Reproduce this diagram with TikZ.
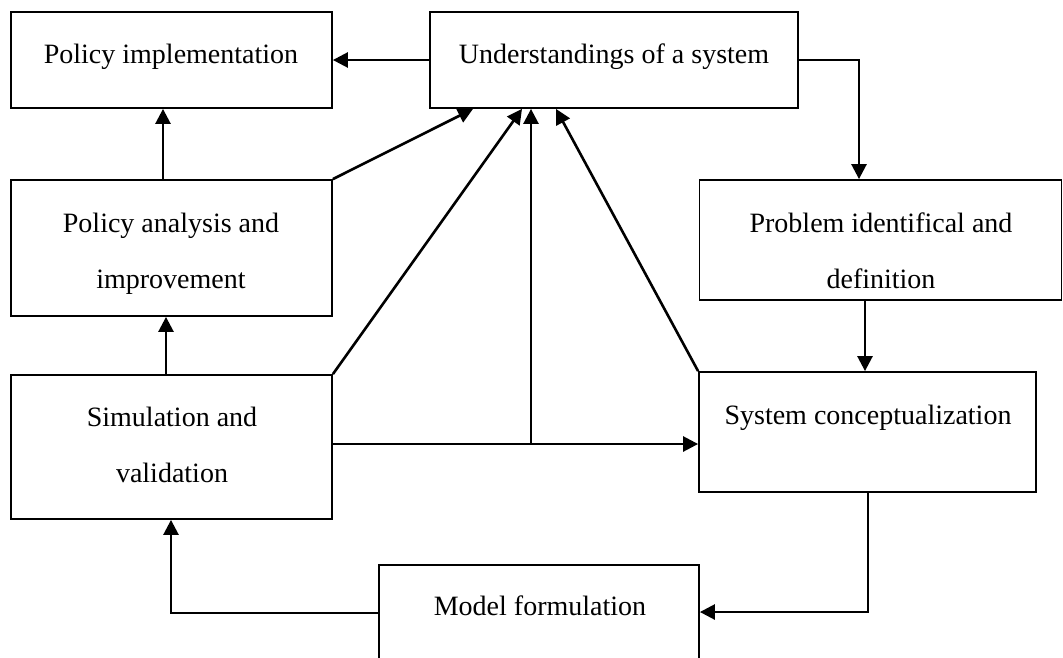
\documentclass[tikz,border=0pt]{standalone}
\usepackage{fontspec}
\setmainfont{Liberation Serif}
\usetikzlibrary{arrows.meta}
\begin{document}
\begin{tikzpicture}[x=1pt,y=-1pt,
  box/.style={draw, line width=1.8pt, inner sep=0pt, rectangle},
  lbl/.style={font=\fontsize{28}{56}\selectfont, inner sep=0pt, anchor=base, align=center},
  conn/.style={line width=2.6pt, -{Triangle[length=15pt,width=15pt]}},
  plainline/.style={line width=2.6pt}]
\useasboundingbox (0,0) rectangle (1063,657);
\clip (0,0) rectangle (1063,657);
% boxes
\node[box, minimum width=321pt, minimum height=96pt] (pi) at (171.5,60) {};
\node[box, minimum width=368pt, minimum height=96pt] (ui) at (614,60) {};
\node[box, minimum width=321pt, minimum height=136pt] (pa) at (171.5,248) {};
\node[box, minimum width=362pt, minimum height=120pt] (pd) at (880.5,240) {};
\node[box, minimum width=321pt, minimum height=144pt] (sv) at (171.5,447) {};
\node[box, minimum width=337pt, minimum height=120pt] (sc) at (867.5,432) {};
\node[box, minimum width=320pt, minimum height=140pt] (mf) at (539,635) {};
% labels (anchor base = last line)
\node[lbl] (tpi) at (171,63) {Policy implementation};
\node[lbl] (tui) at (614,63) {Understandings of a system};
\node[lbl] (tpa) at (171,288) {Policy analysis and\\improvement};
\node[lbl] (tpd) at (881,288) {Problem identifical and\\definition};
\node[lbl] (tsv) at (172,482) {Simulation and\\validation};
\node[lbl] (tsc) at (868,424) {System conceptualization};
\node[lbl] (tmf) at (540,615) {Model formulation};
% connectors
\draw[conn] (ui.west) -- (pi.east);
\draw[conn] (ui.east) -| (859,0 |- pd.north);
\draw[conn] (865,0 |- pd.south) -- (865,0 |- sc.north);
\draw[conn] (163,0 |- pa.north) -- (163,0 |- pi.south);
\draw[conn] (166,0 |- sv.north) -- (166,0 |- pa.south);
\draw[conn] (pa.north east) -- (473,0 |- ui.south);
\draw[conn] (sv.north east) -- (522,0 |- ui.south);
\coordinate (j) at (531,444);
\draw[conn] (sv.east |- j) -- (sc.west |- j);
\draw[conn] (j) -- (531,0 |- ui.south);
\draw[conn] (sc.north west) -- (556,0 |- ui.south);
\draw[conn] (868,0 |- sc.south) |- (mf.east |- 0,612);
\draw[conn] (mf.west |- 0,613) -| (171,0 |- sv.south);
\end{tikzpicture}
\end{document}
